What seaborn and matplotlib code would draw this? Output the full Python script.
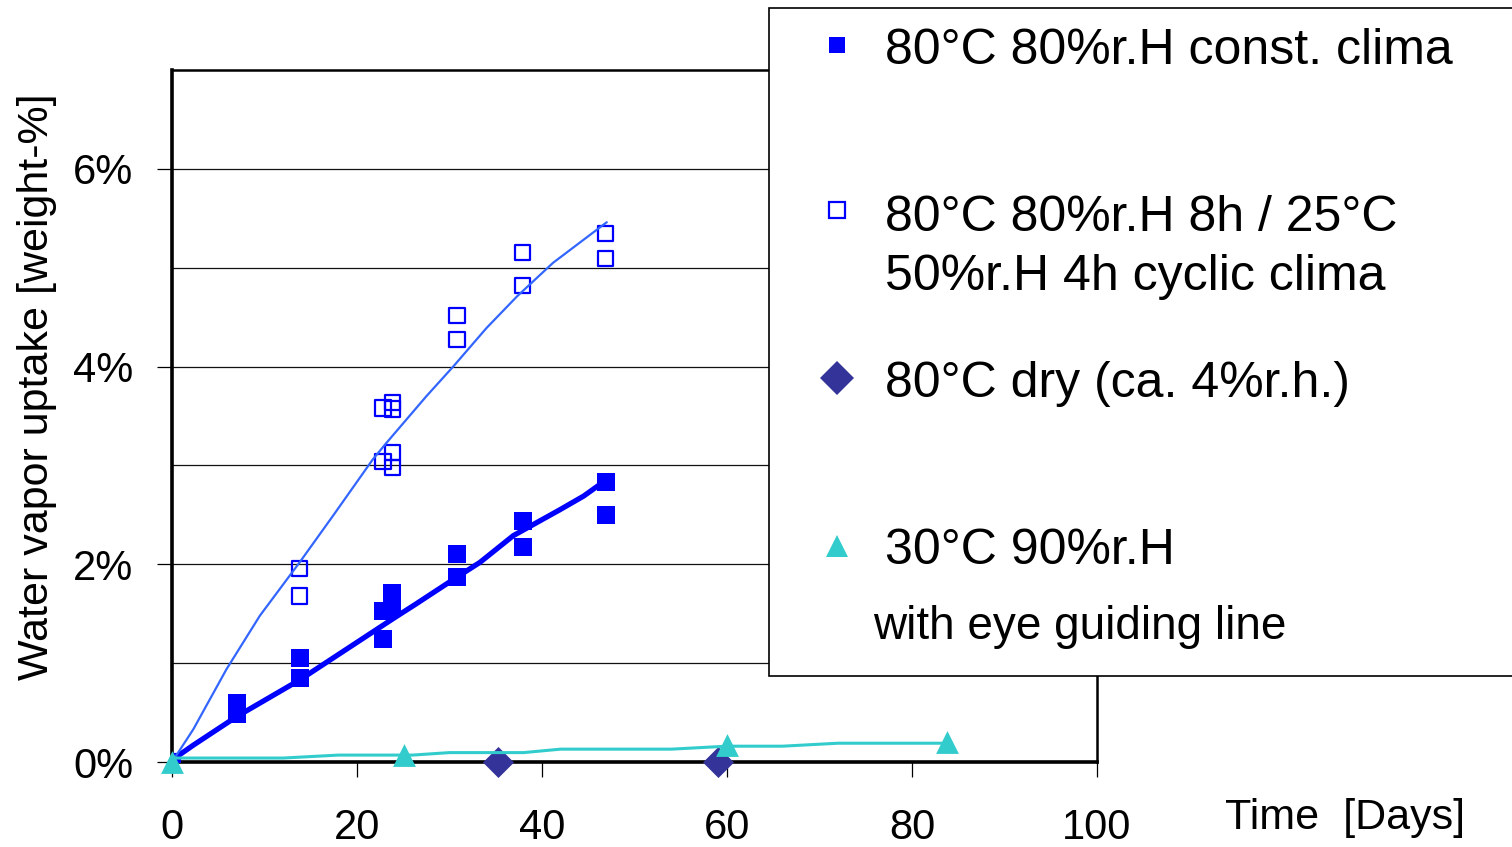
import numpy as np
import pandas as pd
import matplotlib
matplotlib.use("Agg")
import matplotlib.pyplot as plt
import seaborn as sns
from matplotlib.lines import Line2D
from matplotlib.patches import Rectangle
from matplotlib.ticker import FixedLocator, FuncFormatter

# ---------------- data ----------------
const_days = [0, 7, 7, 13.8, 13.8, 22.8, 22.8, 23.8, 23.8, 30.8, 30.8, 37.9, 37.9, 46.9, 46.9]
const_vals = [0.0, 0.60, 0.49, 1.05, 0.85, 1.53, 1.24, 1.71, 1.57, 2.10, 1.87, 2.44, 2.17, 2.83, 2.50]
const_line_days = [0, 2.3, 7, 13.8, 23.9, 26.4, 30.8, 33.3, 36.9, 41.9, 44.5, 46.3]
const_line_vals = [0.02, 0.17, 0.46, 0.83, 1.45, 1.60, 1.87, 2.02, 2.29, 2.55, 2.69, 2.81]

cyc_days = [0, 13.8, 13.8, 22.8, 22.8, 23.8, 23.8, 23.8, 23.8, 30.8, 30.8, 37.9, 37.9, 46.9, 46.9]
cyc_vals = [0.0, 1.96, 1.68, 3.58, 3.04, 3.64, 3.57, 3.13, 2.98, 4.52, 4.27, 5.15, 4.82, 5.35, 5.09]
cyc_line_days = [0, 2.3, 5.9, 9.5, 13.8, 17.4, 21.7, 23.2, 27.5, 30.4, 34.0, 37.3, 41.2, 47.0]
cyc_line_vals = [0.0, 0.33, 0.94, 1.48, 2.02, 2.49, 3.06, 3.23, 3.70, 4.00, 4.39, 4.71, 5.05, 5.46]

dry_days = [35.2, 59.0]
dry_vals = [0.0, 0.0]

hum_days = [0, 25.1, 60.0, 83.8]
hum_vals = [0.0, 0.074, 0.17, 0.20]
hum_line_days = [0, 12, 18, 26, 30, 38, 42, 54, 60, 66, 72, 84]
hum_line_vals = [0.04, 0.04, 0.07, 0.07, 0.095, 0.095, 0.13, 0.13, 0.16, 0.16, 0.19, 0.19]

x_ticks = [0, 20, 40, 60, 80, 100]
y_major = [0, 2, 4, 6]
y_minor = [1, 3, 5]

legend_labels = ["80°C 80%r.H const. clima",
                 "80°C 80%r.H 8h / 25°C",
                 "50%r.H 4h cyclic clima",
                 "80°C dry (ca. 4%r.h.)",
                 "30°C 90%r.H",
                 "with eye guiding line"]
x_label = "Time  [Days]"
y_label = "Water vapor uptake [weight-%]"

BLUE = "#0000FF"
LBLUE = "#3366FF"
NAVY = "#333399"
CYAN = "#33CCCC"

# ---------------- figure ----------------
sns.set_theme(style="white")
plt.rcParams["font.family"] = ["Liberation Sans", "DejaVu Sans"]

W, H = 1512, 847
fig = plt.figure(figsize=(W / 100, H / 100), dpi=100)
fig.patch.set_facecolor("white")
ax = fig.add_axes([172 / W, 1 - 762 / H, (1097 - 172) / W, (762 - 70) / H])
ax.set_facecolor("white")

# eye guiding lines
sns.lineplot(x=const_line_days, y=const_line_vals, sort=False, estimator=None,
             color=BLUE, lw=3.8, ax=ax, zorder=4)
sns.lineplot(x=cyc_line_days, y=cyc_line_vals, sort=False, estimator=None,
             color=LBLUE, lw=1.6, ax=ax, zorder=4)

# markers
sns.scatterplot(x=const_days, y=const_vals, marker="s", s=150, color=BLUE,
                edgecolor=BLUE, linewidth=0, ax=ax, zorder=3)
sns.scatterplot(x=cyc_days, y=cyc_vals, marker="s", s=120, color=BLUE,
                facecolor="none", edgecolor=BLUE, linewidth=1.6, ax=ax, zorder=3)
sns.scatterplot(x=dry_days, y=dry_vals, marker="D", s=250, color=NAVY,
                edgecolor=NAVY, linewidth=0, ax=ax, zorder=5, clip_on=False)
sns.lineplot(x=hum_line_days, y=hum_line_vals, sort=False, estimator=None,
             color=CYAN, lw=2.2, ax=ax, zorder=6)
sns.scatterplot(x=hum_days, y=hum_vals, marker="^", s=270, color=CYAN,
                edgecolor=CYAN, linewidth=0, ax=ax, zorder=7, clip_on=False)

# axes
ax.set_xlim(0, 100)
ax.set_ylim(0, 7)
ax.xaxis.set_major_locator(FixedLocator(x_ticks))
ax.yaxis.set_major_locator(FixedLocator(y_major))
ax.yaxis.set_minor_locator(FixedLocator(y_minor))
ax.yaxis.set_major_formatter(FuncFormatter(lambda v, p: f"{v:.0f}%"))
ax.grid(True, axis="y", which="both", color="#111111", lw=0.9, zorder=1)
ax.set_axisbelow(True)
ax.tick_params(axis="x", which="major", direction="out", length=11, width=0.9,
               color="black", labelsize=30, pad=22, bottom=True)
ax.tick_params(axis="y", which="major", direction="out", length=11, width=0.9,
               color="black", labelsize=30, pad=17, left=True)
ax.tick_params(axis="y", which="minor", length=0)
for lab in ax.get_xticklabels() + ax.get_yticklabels():
    lab.set_color("black")
for side, w in [("left", 2.6), ("bottom", 2.6), ("top", 1.8), ("right", 1.8)]:
    ax.spines[side].set_visible(True)
    ax.spines[side].set_color("black")
    ax.spines[side].set_linewidth(w)

ax.set_ylabel(y_label, fontsize=31, color="black")
ax.yaxis.set_label_coords((57 - 172) / 925, 0.542)
ax.set_xlabel(x_label, fontsize=31, color="black")
ax.xaxis.set_label_coords(1.268, -0.052)


# ---------------- legend box (figure overlay) ----------------
def fx(px):
    return px / W


def fy(py):
    return 1 - py / H


rect = Rectangle((fx(769), fy(676)), fx(1512 - 769) + 0.02, (676 - 8) / H,
                 transform=fig.transFigure, facecolor="white", edgecolor="black",
                 lw=1.2, zorder=10, clip_on=False)
fig.add_artist(rect)

mk = [
    dict(marker="s", ms=12, mfc=BLUE, mec=BLUE, mew=0, y=45),
    dict(marker="s", ms=11, mfc="none", mec=BLUE, mew=1.6, y=210),
    dict(marker="D", ms=17, mfc=NAVY, mec=NAVY, mew=0, y=378),
    dict(marker="^", ms=16, mfc=CYAN, mec=CYAN, mew=0, y=546),
]
for m in mk:
    yy = m.pop("y")
    fig.add_artist(Line2D([fx(837)], [fy(yy)], ls="none", transform=fig.transFigure,
                          zorder=11, **m))

text_rows = [(legend_labels[0], 885, 64, 36),
             (legend_labels[1], 885, 231, 36),
             (legend_labels[2], 885, 290, 36),
             (legend_labels[3], 885, 397, 36),
             (legend_labels[4], 885, 564, 36),
             (legend_labels[5], 873, 639, 33)]
for t, xx, yy, fs in text_rows:
    fig.text(fx(xx), fy(yy), t, fontsize=fs, ha="left", va="baseline",
             color="black", zorder=11)

fig.savefig("out.png", dpi=100, facecolor="white")
